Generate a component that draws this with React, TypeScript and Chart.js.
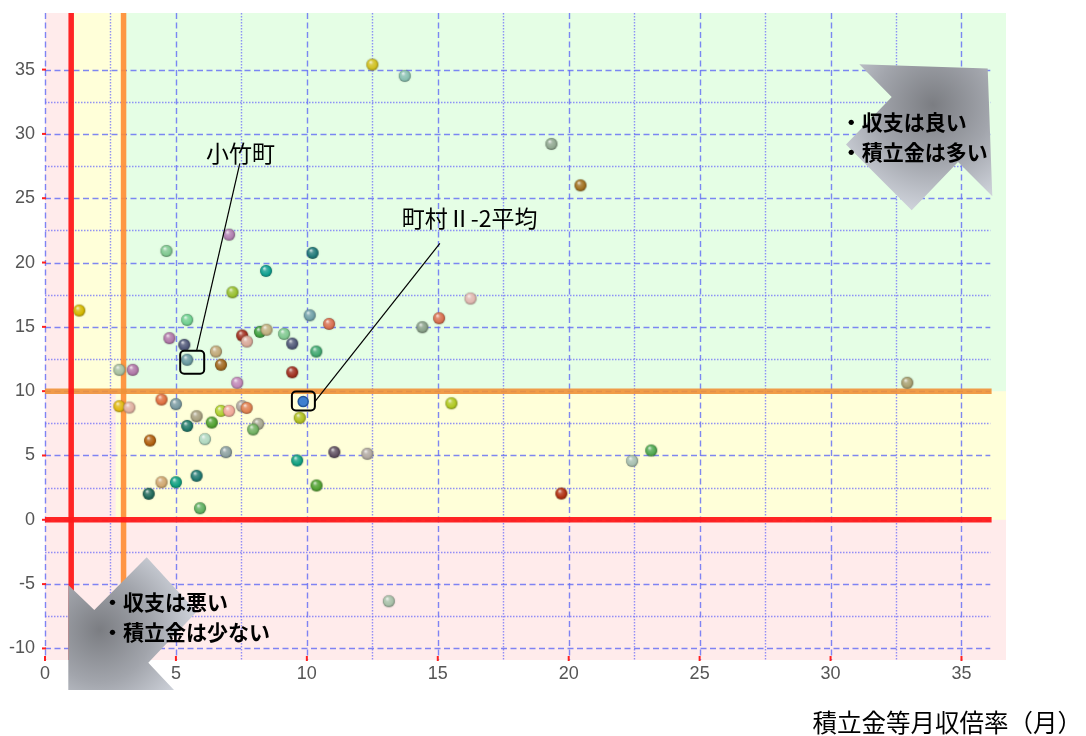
import React, { useEffect, useRef } from "react";
import { Chart, registerables } from "chart.js";

Chart.register(...registerables);

// ---- data ----
const xValues = [
  1.31, 12.5, 13.74, 19.34, 20.45, 4.64, 7.03, 10.22, 8.44, 7.16,
  16.25, 5.43, 10.11, 10.85, 15.05, 14.41, 4.75, 5.32, 5.43, 6.53,
  6.72, 7.53, 7.71, 8.21, 8.46, 9.13, 9.44, 10.36, 9.44, 7.34,
  2.84, 3.35, 2.84, 3.22, 4.45, 5.0, 5.79, 5.43, 6.37, 6.72,
  7.03, 7.53, 7.7, 8.14, 7.95, 9.73, 6.11, 4.01, 6.91, 9.63,
  11.05, 5.79, 4.45, 5.0, 3.96, 10.37, 5.92, 15.52, 12.31, 23.15,
  22.42, 19.72, 13.13, 32.93,
];
const yValues = [
  16.27, 35.39, 34.51, 29.22, 26.0, 20.9, 22.17, 20.75, 19.35, 17.69,
  17.2, 15.54, 15.9, 15.23, 15.67, 14.97, 14.12, 13.6, 12.44, 13.08,
  12.05, 14.33, 13.86, 14.61, 14.77, 14.45, 13.7, 13.08, 11.47, 10.65,
  11.66, 11.66, 8.83, 8.73, 9.35, 8.99, 8.05, 7.3, 7.56, 8.47,
  8.47, 8.83, 8.7, 7.46, 7.02, 7.93, 6.27, 6.16, 5.26, 4.61,
  5.26, 3.42, 2.92, 2.92, 2.02, 2.67, 0.9, 9.06, 5.13, 5.39,
  4.58, 2.04, -6.33, 10.65,
];
const pointColors = [
  "#d4b800", "#d0c020", "#88c0b0", "#90a890", "#a07020", "#80c890", "#b080b0", "#207878", "#10a090", "#98c030",
  "#e0b8b0", "#70d090", "#70a0a8", "#d87050", "#d87050", "#88a088", "#b078a8", "#505878", "#6898a0", "#c0a878",
  "#a06820", "#a03020", "#d8a898", "#40a040", "#c0b080", "#80c890", "#505878", "#40a870", "#a03020", "#c088b8",
  "#a8c0a0", "#b078a8", "#e0b810", "#e0b0a0", "#e07040", "#7898a0", "#a8a080", "#207868", "#50a030", "#b0d030",
  "#f0a898", "#b0a8a0", "#e08050", "#a8a890", "#70b060", "#b0c020", "#b0d8c0", "#b06010", "#8ca0a0", "#10a080",
  "#605060", "#207870", "#d0a870", "#10a080", "#206858", "#50a030", "#60b060", "#b0c820", "#b0a8a0", "#50a850",
  "#a8c0b0", "#b03010", "#a8c0a8", "#a8a070",
];
const averageX = [9.86];
const averageY = [9.19];
const kotakeIndex = 18;
const kotakeLabel = "小竹町";
const averageLabel = "町村Ⅱ-2平均";
const thresholdX = [1, 3];
const thresholdY = [0, 10];
const gridValuesX = [0, 2.5, 5, 7.5, 10, 12.5, 15, 17.5, 20, 22.5, 25, 27.5, 30, 32.5, 35];
const gridValuesY = [-10, -7.5, -5, -2.5, 0, 2.5, 5, 7.5, 10, 12.5, 15, 17.5, 20, 22.5, 25, 27.5, 30, 32.5, 35];
const goodText = ["・収支は良い", "・積立金は多い"];
const badText = ["・収支は悪い", "・積立金は少ない"];
const xAxisTitle = "積立金等月収倍率（月）";

const PINK = "#ffebeb";
const YELLOW = "#ffffd9";
const GREEN = "#e5fee5";
const CJK = '"Noto Sans CJK JP", "Noto Sans", sans-serif';

function hexToRgb(h: string) {
  const n = parseInt(h.slice(1), 16);
  return [(n >> 16) & 255, (n >> 8) & 255, n & 255];
}
function mix(c: number[], t: number[], f: number) {
  return c.map((v, i) => Math.round(v + (t[i] - v) * f));
}
function rgb(a: number[]) {
  return `rgb(${a[0]},${a[1]},${a[2]})`;
}
function makeSphere(hex: string, r: number) {
  const s = Math.ceil(r * 2 + 4);
  const cv = document.createElement("canvas");
  cv.width = s;
  cv.height = s;
  const c = cv.getContext("2d")!;
  const cx = s / 2;
  const cy = s / 2;
  const base = hexToRgb(hex);
  const g = c.createRadialGradient(cx - r * 0.3, cy - r * 0.45, r * 0.08, cx, cy, r);
  g.addColorStop(0, rgb(mix(base, [255, 255, 255], 0.75)));
  g.addColorStop(0.3, rgb(mix(base, [255, 255, 255], 0.2)));
  g.addColorStop(0.75, rgb(base));
  g.addColorStop(1, rgb(mix(base, [0, 0, 0], 0.3)));
  c.shadowColor = "rgba(0,0,0,0.25)";
  c.shadowBlur = 1.5;
  c.fillStyle = g;
  c.beginPath();
  c.arc(cx, cy, r, 0, Math.PI * 2);
  c.fill();
  return cv;
}

function drawArrow(ctx: CanvasRenderingContext2D, pts: number[][], cx: number, cy: number, rad: number) {
  const g = ctx.createRadialGradient(cx, cy, 0, cx, cy, rad);
  g.addColorStop(0, "#7b7d82");
  g.addColorStop(0.55, "#a2a5ac");
  g.addColorStop(1, "#cdd1d9");
  ctx.fillStyle = g;
  ctx.beginPath();
  pts.forEach((p, i) => (i === 0 ? ctx.moveTo(p[0], p[1]) : ctx.lineTo(p[0], p[1])));
  ctx.closePath();
  ctx.fill();
}

const decorPlugin = {
  id: "decor",
  beforeDatasetsDraw(chart: any) {
    const { ctx, chartArea: a, scales } = chart;
    const xs = scales.x;
    const ys = scales.y;
    const px = (v: number) => xs.getPixelForValue(v);
    const py = (v: number) => ys.getPixelForValue(v);
    ctx.save();
    const rect = (x0: number, x1: number, y0: number, y1: number, color: string) => {
      const l = Math.max(a.left, Math.min(px(x0), px(x1)));
      const r = Math.min(a.right, Math.max(px(x0), px(x1)));
      const t = Math.max(a.top, Math.min(py(y0), py(y1)));
      const b = Math.min(a.bottom, Math.max(py(y0), py(y1)));
      ctx.fillStyle = color;
      ctx.fillRect(l, t, r - l, b - t);
    };
    rect(xs.min, xs.max, ys.min, ys.max, PINK);
    rect(thresholdX[0], thresholdX[1], thresholdY[1], ys.max, YELLOW);
    rect(thresholdX[1] - 0.3, xs.max, thresholdY[0], thresholdY[1], YELLOW);
    rect(thresholdX[1], xs.max, thresholdY[1], ys.max, GREEN);

    // grid
    const gridRight = px(36.1);
    ctx.lineWidth = 1.4;
    gridValuesX.forEach((v) => {
      const major = v % 5 === 0;
      ctx.strokeStyle = major ? "rgba(95,105,245,0.8)" : "rgba(110,110,250,0.75)";
      ctx.setLineDash(major ? [6, 3.5] : [1.5, 1.5]);
      const x = Math.round(px(v)) + 0.5;
      ctx.beginPath();
      ctx.moveTo(x, a.top);
      ctx.lineTo(x, a.bottom);
      ctx.stroke();
    });
    gridValuesY.forEach((v) => {
      const major = v % 5 === 0;
      ctx.strokeStyle = major ? "rgba(95,105,245,0.8)" : "rgba(110,110,250,0.75)";
      ctx.setLineDash(major ? [6, 3.5] : [1.5, 1.5]);
      const y = Math.round(py(v)) + 0.5;
      ctx.beginPath();
      ctx.moveTo(a.left, y);
      ctx.lineTo(gridRight, y);
      ctx.stroke();
    });
    ctx.setLineDash([]);

    // red tick marks
    ctx.strokeStyle = "#ff2020";
    ctx.lineWidth = 2;
    gridValuesX.filter((v) => v % 5 === 0).forEach((v) => {
      ctx.beginPath();
      ctx.moveTo(px(v), a.bottom - 4);
      ctx.lineTo(px(v), a.bottom + 1);
      ctx.stroke();
    });
    gridValuesY.filter((v) => v % 5 === 0).forEach((v) => {
      ctx.beginPath();
      ctx.moveTo(a.left - 3, py(v));
      ctx.lineTo(a.left + 1, py(v));
      ctx.stroke();
    });

    // threshold lines
    const lineRight = px(36.15);
    ctx.lineWidth = 5.5;
    ctx.strokeStyle = "rgba(255,140,50,0.9)";
    ctx.beginPath();
    ctx.moveTo(px(thresholdX[1]), a.top);
    ctx.lineTo(px(thresholdX[1]), a.bottom);
    ctx.stroke();
    ctx.strokeStyle = "rgba(240,145,55,0.9)";
    ctx.beginPath();
    ctx.moveTo(a.left, py(thresholdY[1]));
    ctx.lineTo(lineRight, py(thresholdY[1]));
    ctx.stroke();
    ctx.strokeStyle = "rgba(255,25,25,0.95)";
    ctx.beginPath();
    ctx.moveTo(px(thresholdX[0]), a.top);
    ctx.lineTo(px(thresholdX[0]), a.bottom);
    ctx.stroke();
    ctx.beginPath();
    ctx.moveTo(a.left, py(thresholdY[0]));
    ctx.lineTo(lineRight, py(thresholdY[0]));
    ctx.stroke();
    ctx.restore();
  },
  afterDatasetsDraw(chart: any) {
    const { ctx, chartArea: a, scales } = chart;
    const xs = scales.x;
    const ys = scales.y;
    const px = (v: number) => xs.getPixelForValue(v);
    const py = (v: number) => ys.getPixelForValue(v);
    ctx.save();

    // 小竹町 callout
    const kx = px(xValues[kotakeIndex]);
    const ky = py(yValues[kotakeIndex]);
    ctx.strokeStyle = "#000";
    ctx.lineWidth = 1.2;
    ctx.beginPath();
    ctx.moveTo(kx + 9.4, ky - 9);
    ctx.lineTo(px(7.44), py(27.71));
    ctx.stroke();
    ctx.lineWidth = 2;
    ctx.beginPath();
    ctx.roundRect(kx - 7, ky - 9, 24, 23, 4);
    ctx.stroke();

    // average callout
    const ax = px(averageX[0]);
    const ay = py(averageY[0]);
    ctx.lineWidth = 1.2;
    ctx.beginPath();
    ctx.moveTo(ax + 11.7, ay);
    ctx.lineTo(px(15.08), py(21.49));
    ctx.stroke();
    ctx.lineWidth = 2;
    ctx.beginPath();
    ctx.roundRect(ax - 11.3, ay - 10, 23, 19, 4);
    ctx.stroke();

    ctx.fillStyle = "#000";
    ctx.font = `23px ${CJK}`;
    ctx.textAlign = "center";
    ctx.textBaseline = "middle";
    ctx.fillText(kotakeLabel, px(7.47), py(28.5));
    ctx.fillText(averageLabel, px(16.22), py(23.43));

    // arrows
    const R = a.right;
    const T = a.top;
    const trPts = [
      [R - 146.7, T + 51.3],
      [R - 18.3, T + 55.6],
      [R - 13.7, T + 183.3],
      [R - 48, T + 149],
      [R - 94.3, T + 197.3],
      [R - 160, T + 131.6],
      [R - 114.3, T + 84],
    ];
    drawArrow(ctx, trPts, R - 73, T + 92, 105);
    const L = a.left;
    const B = a.bottom;
    const blPts = [
      [L + 23.3, B + 30],
      [L + 129, B + 30],
      [L + 103.3, B + 2.7],
      [L + 151.7, B - 48.3],
      [L + 101.7, B - 102.7],
      [L + 49.3, B - 50],
      [L + 23.3, B - 75],
    ];
    drawArrow(ctx, blPts, L + 55, B - 30, 95);

    ctx.fillStyle = "#000";
    ctx.font = `bold 21px ${CJK}`;
    ctx.textAlign = "left";
    ctx.textBaseline = "middle";
    ctx.fillText(goodText[0], R - 165.3, T + 109);
    ctx.fillText(goodText[1], R - 165.3, T + 139);
    ctx.fillText(badText[0], L + 57, B - 58.3);
    ctx.fillText(badText[1], L + 57, B - 28.3);

    // axis title
    ctx.font = `24.5px ${CJK}`;
    ctx.textAlign = "right";
    ctx.fillText(xAxisTitle, 1082, 723);
    ctx.restore();
  },
};

export default function App() {
  const canvasRef = useRef<HTMLCanvasElement | null>(null);
  useEffect(() => {
    if (!canvasRef.current) return;
    const spheres = pointColors.map((c) => makeSphere(c, 6));
    const chart = new Chart(canvasRef.current, {
      type: "scatter",
      data: {
        datasets: [
          {
            data: averageX.map((x, i) => ({ x, y: averageY[i] })),
            backgroundColor: "#3f7fcf",
            borderColor: "#24579c",
            borderWidth: 1.5,
            pointRadius: 5,
            pointHoverRadius: 5,
          },
          {
            data: xValues.map((x, i) => ({ x, y: yValues[i] })),
            pointStyle: (ctx: any) => spheres[ctx.dataIndex] as any,
            pointRadius: 6,
            pointHoverRadius: 6,
          },
        ],
      },
      options: {
        animation: false,
        responsive: true,
        maintainAspectRatio: false,
        layout: { padding: { left: 0, top: 13, right: 80, bottom: 0 } },
        plugins: { legend: { display: false }, tooltip: { enabled: false } },
        events: [],
        scales: {
          x: {
            type: "linear",
            min: 0,
            max: 36.7,
            grid: { display: false, drawTicks: false },
            border: { display: false },
            ticks: {
              stepSize: 5,
              includeBounds: false,
              padding: 3,
              color: "#555",
              font: { family: '"Liberation Sans", Arial, sans-serif', size: 18 },
            },
            afterFit: (s: any) => {
              s.height = 76;
              s.paddingLeft = 0;
              s.paddingRight = 0;
            },
          },
          y: {
            type: "linear",
            min: -10.9,
            max: 39.4,
            grid: { display: false, drawTicks: false },
            border: { display: false },
            ticks: {
              stepSize: 5,
              includeBounds: false,
              padding: 10,
              color: "#555",
              font: { family: '"Liberation Sans", Arial, sans-serif', size: 18 },
            },
            afterFit: (s: any) => {
              s.width = 45;
              s.paddingTop = 0;
              s.paddingBottom = 0;
            },
          },
        },
      },
      plugins: [decorPlugin],
    } as any);
    return () => chart.destroy();
  }, []);
  return (
    <div style={{ position: "fixed", left: 0, top: 0, width: 1086, height: 736, background: "#fff" }}>
      <canvas ref={canvasRef} />
    </div>
  );
}
